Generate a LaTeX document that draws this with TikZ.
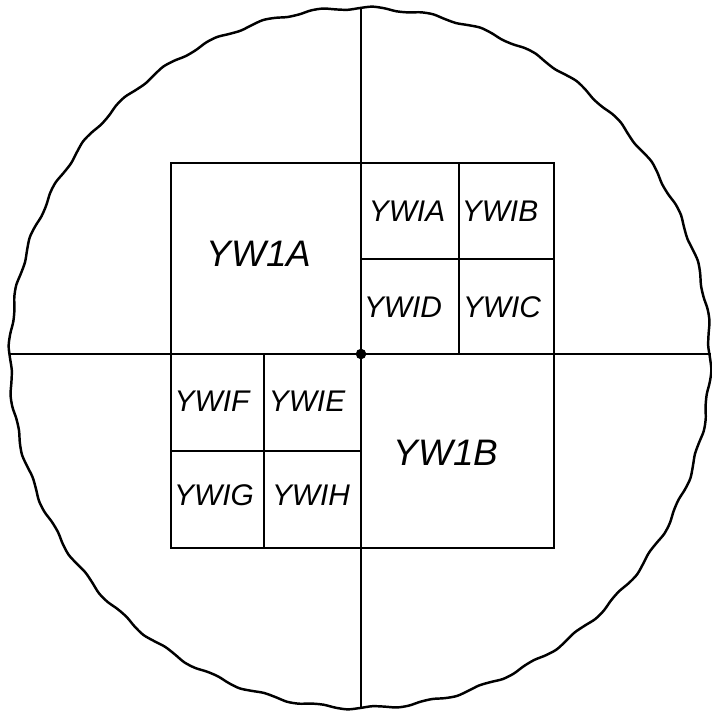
\documentclass[tikz,border=0pt]{standalone}
\usepackage{fontspec}
\setsansfont{Liberation Sans}
\usepackage{tikz}

\tikzset{
    vak/.style={font=\sffamily\itshape\fontsize{17}{17}\selectfont},
    groot/.style={font=\sffamily\itshape\fontsize{21}{21}\selectfont},
}

\begin{document}
\begin{tikzpicture}[x=0.02cm, y=-0.02cm, line width=1.4pt]

    \useasboundingbox (0,0) rectangle (711,712);

    % Midden
    \coordinate (c) at (361,354);

    % Cirkel (iets golvend)
    \draw[shift={(360,358)}, line join=round]
        plot[smooth cycle, domain=0:358, samples=180] (\x:{350+1.6*sin(40*\x)});

    % Assen
    \draw (361,7) -- (361,709);
    \draw (9,354) -- (711,354);

    % Vakken
    \draw (171,163) rectangle (554,548);
    \draw (459,163) -- (459,354);
    \draw (361,259) -- (554,259);
    \draw (264,354) -- (264,548);
    \draw (171,451) -- (361,451);

    \fill (c) circle (3pt);

    % Namen
    \node[groot] (YW1A) at (259,254) {YW1A};
    \node[groot] (YW1B) at (446,453) {YW1B};
    \foreach \naam/\x/\y in {YWIA/407/211, YWIB/500/211, YWID/403/307, YWIC/502/307,
                             YWIF/212/401, YWIE/307/401, YWIG/214/495, YWIH/311/495} {
        \node[vak] (\naam) at (\x,\y) {\naam};
    }

\end{tikzpicture}
\end{document}
